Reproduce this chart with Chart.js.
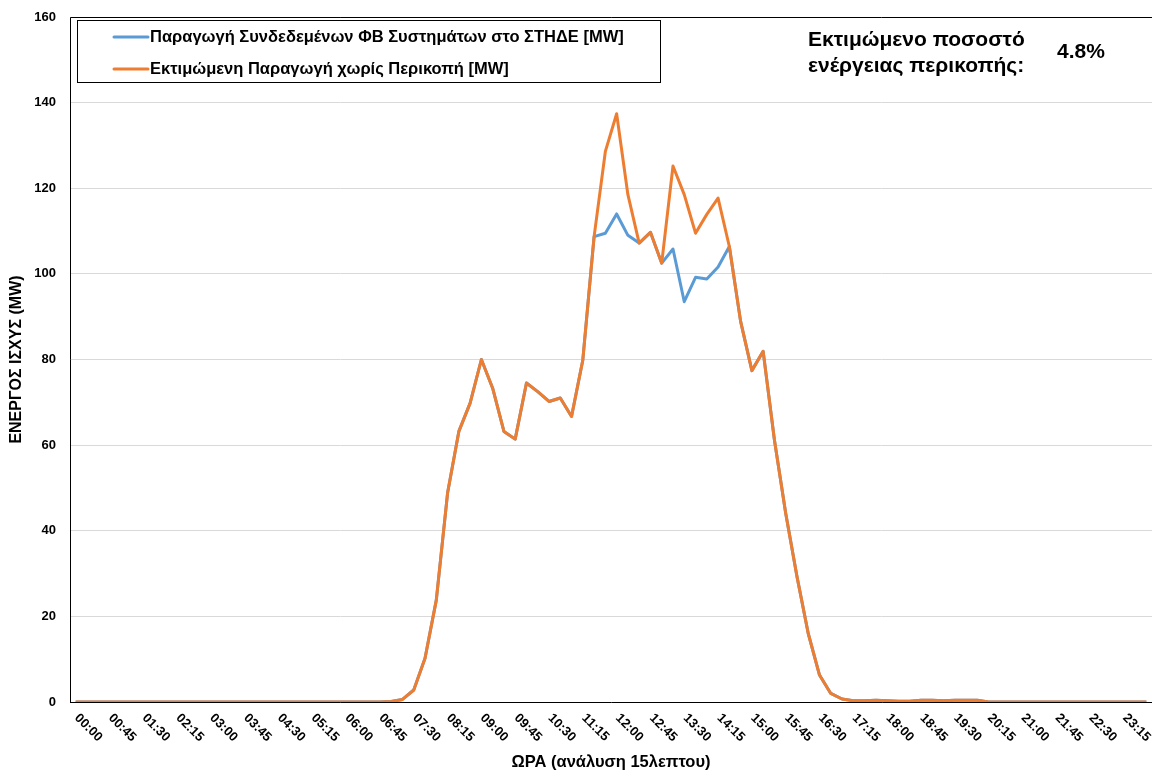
<!DOCTYPE html>
<html>
<head>
<meta charset="utf-8">
<script src="https://cdn.jsdelivr.net/npm/chart.js@4"></script>
<style>
  html, body { margin: 0; padding: 0; background: #fff; }
  #wrap { position: relative; width: 1152px; height: 774px; }
</style>
</head>
<body>
<div id="wrap"><canvas id="pvChart" width="1152" height="774"></canvas></div>
<script>
// --- data (15-minute resolution, MW) ---
const times = [];
for (let h = 0; h < 24; h++) {
    for (let m = 0; m < 60; m += 15) {
        times.push(String(h).padStart(2, '0') + ':' + String(m).padStart(2, '0'));
    }
}

// Παραγωγή Συνδεδεμένων ΦΒ Συστημάτων στο ΣΤΗΔΕ [MW]
const pvConnected = [
    0, 0, 0, 0, 0, 0, 0, 0, 0, 0, 0, 0,
    0, 0, 0, 0, 0, 0, 0, 0, 0, 0, 0, 0,
    0, 0, 0, 0, 0.1, 0.6, 2.8, 10.2, 23.8, 48.8, 63.2, 69.8,
    80.0, 73.3, 63.2, 61.4, 74.5, 72.5, 70.2, 71.0, 66.7, 79.9, 108.7, 109.5,
    114.0, 109.0, 107.2, 109.7, 102.5, 105.8, 93.5, 99.2, 98.8, 101.6, 106.4, 88.9,
    77.4, 81.9, 61.2, 44.1, 29.3, 16.0, 6.3, 2.0, 0.7, 0.3, 0.3, 0.4,
    0.3, 0.2, 0.2, 0.4, 0.4, 0.3, 0.4, 0.4, 0.4, 0, 0, 0,
    0, 0, 0, 0, 0, 0, 0, 0, 0, 0, 0, 0
];

// Εκτιμώμενη Παραγωγή χωρίς Περικοπή [MW]
const pvNoCurtail = [
    0, 0, 0, 0, 0, 0, 0, 0, 0, 0, 0, 0,
    0, 0, 0, 0, 0, 0, 0, 0, 0, 0, 0, 0,
    0, 0, 0, 0, 0.1, 0.6, 2.8, 10.2, 23.8, 48.8, 63.2, 69.8,
    80.0, 73.3, 63.2, 61.4, 74.5, 72.5, 70.2, 71.0, 66.7, 79.9, 108.7, 128.6,
    137.4, 118.5, 107.2, 109.7, 102.5, 125.2, 118.5, 109.5, 113.9, 117.7, 106.4, 88.9,
    77.4, 81.9, 61.2, 44.1, 29.3, 16.0, 6.3, 2.0, 0.7, 0.3, 0.3, 0.4,
    0.3, 0.2, 0.2, 0.4, 0.4, 0.3, 0.4, 0.4, 0.4, 0, 0, 0,
    0, 0, 0, 0, 0, 0, 0, 0, 0, 0, 0, 0
];

const seriesNames = [
    'Παραγωγή Συνδεδεμένων ΦΒ Συστημάτων στο ΣΤΗΔΕ [MW]',
    'Εκτιμώμενη Παραγωγή χωρίς Περικοπή [MW]'
];
const seriesColors = ['#5B9BD5', '#ED7D31'];
const labelStep = 3; // a time label every 45 minutes
const curtailLabel = ['Εκτιμώμενο ποσοστό', 'ενέργειας περικοπής:'];
const curtailValue = '4.8%';

const FONT = "'Liberation Sans', Arial, sans-serif";

// draws the plot frame, the slanted time labels, the legend box and the note
const extrasPlugin = {
    id: 'extras',
    afterDraw(chart) {
        const ctx = chart.ctx;
        const area = chart.chartArea;
        const xs = chart.scales.x;

        // frame: left and top edge
        ctx.save();
        ctx.strokeStyle = '#000';
        ctx.lineWidth = 1;
        ctx.beginPath();
        ctx.moveTo(area.left + 0.5, area.bottom);
        ctx.lineTo(area.left + 0.5, area.top + 0.5);
        ctx.lineTo(area.right, area.top + 0.5);
        ctx.stroke();
        ctx.restore();

        // slanted x labels
        ctx.save();
        ctx.fillStyle = '#000';
        ctx.font = 'bold 13px ' + FONT;
        ctx.textAlign = 'left';
        ctx.textBaseline = 'middle';
        for (let i = 0; i < times.length; i += labelStep) {
            const x = xs.getPixelForValue(i);
            ctx.save();
            ctx.translate(x + 1, area.bottom + 14);
            ctx.rotate(Math.PI / 4);
            ctx.fillText(times[i], 0, 0);
            ctx.restore();
        }
        ctx.restore();

        // legend box
        ctx.save();
        ctx.fillStyle = '#fff';
        ctx.fillRect(77, 20, 583, 62);
        ctx.strokeStyle = '#000';
        ctx.lineWidth = 1;
        ctx.strokeRect(77.5, 20.5, 583, 62);
        ctx.font = 'bold 16.5px ' + FONT;
        ctx.textBaseline = 'middle';
        ctx.textAlign = 'left';
        const rows = [37, 69];
        seriesNames.forEach((name, i) => {
            ctx.strokeStyle = seriesColors[i];
            ctx.lineWidth = 3;
            ctx.lineCap = 'round';
            ctx.beginPath();
            ctx.moveTo(114, rows[i]);
            ctx.lineTo(148, rows[i]);
            ctx.stroke();
            ctx.fillStyle = '#000';
            ctx.fillText(name, 150, rows[i]);
        });
        ctx.restore();

        // curtailment note
        ctx.save();
        ctx.fillStyle = '#000';
        ctx.font = 'bold 21px ' + FONT;
        ctx.textBaseline = 'middle';
        ctx.textAlign = 'left';
        ctx.fillText(curtailLabel[0], 808, 40);
        ctx.fillText(curtailLabel[1], 808, 66);
        ctx.fillText(curtailValue, 1057, 52);
        ctx.restore();
    }
};

new Chart(document.getElementById('pvChart'), {
    type: 'line',
    data: {
        labels: times,
        datasets: [
            {
                label: seriesNames[0],
                data: pvConnected,
                borderColor: seriesColors[0],
                backgroundColor: seriesColors[0],
                borderWidth: 3,
                pointRadius: 0,
                tension: 0,
                borderJoinStyle: 'round',
                order: 1
            },
            {
                label: seriesNames[1],
                data: pvNoCurtail,
                borderColor: seriesColors[1],
                backgroundColor: seriesColors[1],
                borderWidth: 3,
                pointRadius: 0,
                tension: 0,
                borderJoinStyle: 'round',
                order: 0
            }
        ]
    },
    options: {
        responsive: false,
        animation: false,
        layout: { padding: { top: 17, right: 0, left: 0, bottom: 0 } },
        plugins: {
            legend: { display: false },
            tooltip: { enabled: false }
        },
        scales: {
            x: {
                offset: true,
                grid: { display: false },
                border: { display: true, color: '#000', width: 1 },
                ticks: { display: false },
                title: {
                    display: true,
                    text: 'ΩΡΑ (ανάλυση 15λεπτου)',
                    color: '#000',
                    font: { family: FONT, size: 16.5, weight: 'bold' },
                    padding: { top: 0, bottom: 2 }
                },
                afterFit(scale) { scale.height = 72; }
            },
            y: {
                min: 0,
                max: 160,
                ticks: {
                    stepSize: 20,
                    color: '#000',
                    padding: 14,
                    font: { family: FONT, size: 13, weight: 'bold' }
                },
                grid: { color: '#d9d9d9', lineWidth: 1, drawTicks: false },
                border: { display: false },
                title: {
                    display: true,
                    text: 'ΕΝΕΡΓΟΣ ΙΣΧΥΣ (MW)',
                    color: '#000',
                    font: { family: FONT, size: 16, weight: 'bold' },
                    padding: { top: 7, bottom: 0 }
                },
                afterFit(scale) {
                    scale.width = 70;
                    scale.paddingTop = 0;
                    scale.paddingBottom = 0;
                }
            }
        }
    },
    plugins: [extrasPlugin]
});
</script>
</body>
</html>
